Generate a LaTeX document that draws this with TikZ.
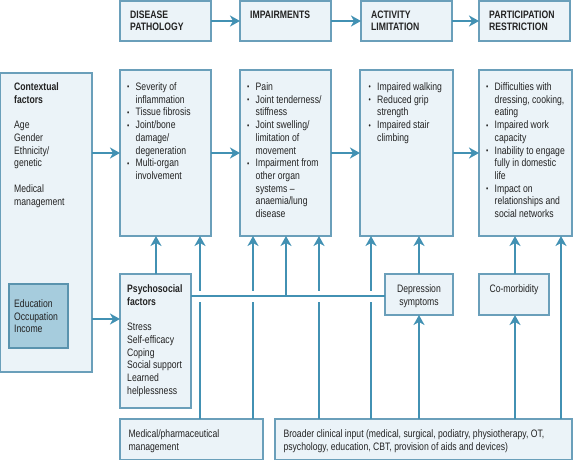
\documentclass[tikz,border=0pt]{standalone}
\usepackage{fontspec}
\setmainfont{Liberation Sans}[FakeStretch=0.8]
\usetikzlibrary{arrows.meta}
\definecolor{bfill}{HTML}{EBF3F8}
\definecolor{bdraw}{HTML}{6A9FBA}
\definecolor{arrc}{HTML}{4291B3}
\definecolor{efill}{HTML}{A6CCDD}
\definecolor{edraw}{HTML}{5A93AE}
\definecolor{txtc}{HTML}{232323}
\newcommand{\bp}{\makebox[8.5pt][l]{\fontsize{8}{8}\selectfont\raisebox{0.6pt}{•}}}
\newcommand{\ind}{\hspace*{8.5pt}}
\begin{document}
\begin{tikzpicture}[x=1pt,y=-1pt,
 boxn/.style={draw=bdraw, fill=bfill, line width=1.4pt, anchor=north west, inner sep=0pt, outer sep=0pt},
 edun/.style={boxn, draw=edraw, fill=efill},
 txt/.style={anchor=base west, inner sep=0pt, text=txtc, font=\fontsize{10.8}{12.7}\selectfont},
 ctxt/.style={txt, anchor=base},
 ttl/.style={txt, font=\fontsize{10.8}{12.7}\selectfont\bfseries},
 ln/.style={draw=arrc, line width=1.7pt},
 arr/.style={ln, -{Stealth[length=10pt,width=11pt,inset=3pt]}},
]
\useasboundingbox (0,0) rectangle (573,461);
% top row
\node[boxn, minimum width=91pt, minimum height=40pt] (dp) at (120,1) {};
\node[boxn, minimum width=91pt, minimum height=40pt] (im) at (240,1) {};
\node[boxn, minimum width=91pt, minimum height=40pt] (ac) at (361,1) {};
\node[boxn, minimum width=91pt, minimum height=40pt] (pa) at (479,1) {};
\node[ttl] (dpT) at (130,18) {\begin{tabular}[t]{@{}l@{}}DISEASE\\PATHOLOGY\end{tabular}};
\node[ttl] (imT) at (250,18) {\begin{tabular}[t]{@{}l@{}}IMPAIRMENTS\end{tabular}};
\node[ttl] (acT) at (371,18) {\begin{tabular}[t]{@{}l@{}}ACTIVITY\\LIMITATION\end{tabular}};
\node[ttl] (paT) at (489,18) {\begin{tabular}[t]{@{}l@{}}PARTICIPATION\\RESTRICTION\end{tabular}};
% main row
\node[boxn, minimum width=91.3pt, minimum height=299pt] (ctx) at (0.7,73) {};
\node[boxn, minimum width=91pt, minimum height=166pt] (dis) at (120,70) {};
\node[boxn, minimum width=91pt, minimum height=166pt] (imp) at (240,70) {};
\node[boxn, minimum width=93pt, minimum height=166pt] (act) at (360,70) {};
\node[boxn, minimum width=93pt, minimum height=166pt] (par) at (479,70) {};
\node[edun, minimum width=59pt, minimum height=64pt] (edu) at (9,284) {};
\node[boxn, minimum width=71pt, minimum height=134pt] (psy) at (120,274) {};
\node[boxn, minimum width=68pt, minimum height=41pt] (dep) at (385,274) {};
\node[boxn, minimum width=70pt, minimum height=41pt] (com) at (479,274) {};
\node[boxn, minimum width=143pt, minimum height=40.5pt] (med) at (120,419) {};
\node[boxn, minimum width=297pt, minimum height=40.5pt] (bro) at (275,419) {};
% texts
\node[txt] (ctxT) at (14,90.7) {\begin{tabular}[t]{@{}l@{}}\textbf{Contextual}\\\textbf{factors}\\ \\Age\\Gender\\Ethnicity/\\genetic\\ \\Medical\\management\end{tabular}};
\node[txt] (eduT) at (14,307.3) {\begin{tabular}[t]{@{}l@{}}Education\\Occupation\\Income\end{tabular}};
\node[txt] (disT) at (127,90.5) {\begin{tabular}[t]{@{}l@{}}\bp Severity of\\\ind inflammation\\\bp Tissue fibrosis\\\bp Joint/bone\\\ind damage/\\\ind degeneration\\\bp Multi-organ\\\ind involvement\end{tabular}};
\node[txt] (impT) at (247,90.5) {\begin{tabular}[t]{@{}l@{}}\bp Pain\\\bp Joint tenderness/\\\ind stiffness\\\bp Joint swelling/\\\ind limitation of\\\ind movement\\\bp Impairment from\\\ind other organ\\\ind systems --\\\ind anaemia/lung\\\ind disease\end{tabular}};
\node[txt] (actT) at (368.5,90.5) {\begin{tabular}[t]{@{}l@{}}\bp Impaired walking\\\bp Reduced grip\\\ind strength\\\bp Impaired stair\\\ind climbing\end{tabular}};
\node[txt] (parT) at (486,90.5) {\begin{tabular}[t]{@{}l@{}}\bp Difficulties with\\\ind dressing, cooking,\\\ind eating\\\bp Impaired work\\\ind capacity\\\bp Inability to engage\\\ind fully in domestic\\\ind life\\\bp Impact on\\\ind relationships and\\\ind social networks\end{tabular}};
\node[txt] (psyT) at (127,292.5) {\begin{tabular}[t]{@{}l@{}}\textbf{Psychosocial}\\\textbf{factors}\\ \\Stress\\Self-efficacy\\Coping\\Social support\\Learned\\helplessness\end{tabular}};
\node[ctxt] (depT) at (419,292.5) {\begin{tabular}[t]{@{}c@{}}Depression\\symptoms\end{tabular}};
\node[ctxt] (comT) at (514,292.5) {\begin{tabular}[t]{@{}c@{}}Co-morbidity\end{tabular}};
\node[txt] (medT) at (128.3,437.3) {\begin{tabular}[t]{@{}l@{}}Medical/pharmaceutical\\management\end{tabular}};
\node[txt] (broT) at (283.3,437.3) {\begin{tabular}[t]{@{}l@{}}Broader clinical input (medical, surgical, podiatry, physiotherapy, OT,\\psychology, education, CBT, provision of aids and devices)\end{tabular}};
% helper coordinates
\coordinate (yctx) at (0,319);
\coordinate (hl) at (0,296);
\coordinate (gT) at (0,290.5);
\coordinate (gB) at (0,301.5);
\coordinate (x156) at (156,0);
\coordinate (x200) at (200,0);
\coordinate (x253) at (253,0);
\coordinate (x286) at (286,0);
\coordinate (x319) at (319,0);
\coordinate (x371) at (371,0);
\coordinate (x419) at (419,0);
\coordinate (x515) at (515,0);
\coordinate (x561) at (561,0);
% top arrows
\draw[arr] (dp.east) -- (im.west);
\draw[arr] (im.east) -- (ac.west);
\draw[arr] (ac.east) -- (pa.west);
% main arrows
\draw[arr] (ctx.east |- dis.west) -- (dis.west);
\draw[arr] (dis.east) -- (imp.west);
\draw[arr] (imp.east) -- (act.west);
\draw[arr] (act.east) -- (par.west);
\draw[arr] (ctx.east |- yctx) -- (psy.west |- yctx);
% psychosocial links
\draw[ln] (psy.east |- hl) -- (dep.west |- hl);
\draw[arr] (psy.north -| x156) -- (dis.south -| x156);
\draw[arr] (hl -| x286) -- (imp.south -| x286);
% medical management
\draw[ln] (med.north -| x200) -- (gB -| x200);
\draw[arr] (gT -| x200) -- (dis.south -| x200);
\draw[ln] (med.north -| x253) -- (gB -| x253);
\draw[arr] (gT -| x253) -- (imp.south -| x253);
% broader clinical input
\draw[ln] (bro.north -| x319) -- (gB -| x319);
\draw[arr] (gT -| x319) -- (imp.south -| x319);
\draw[ln] (bro.north -| x371) -- (gB -| x371);
\draw[arr] (gT -| x371) -- (act.south -| x371);
\draw[arr] (bro.north -| x419) -- (dep.south -| x419);
\draw[arr] (dep.north -| x419) -- (act.south -| x419);
\draw[arr] (bro.north -| x515) -- (com.south -| x515);
\draw[arr] (com.north -| x515) -- (par.south -| x515);
\draw[arr] (bro.north -| x561) -- (par.south -| x561);
\end{tikzpicture}
\end{document}
